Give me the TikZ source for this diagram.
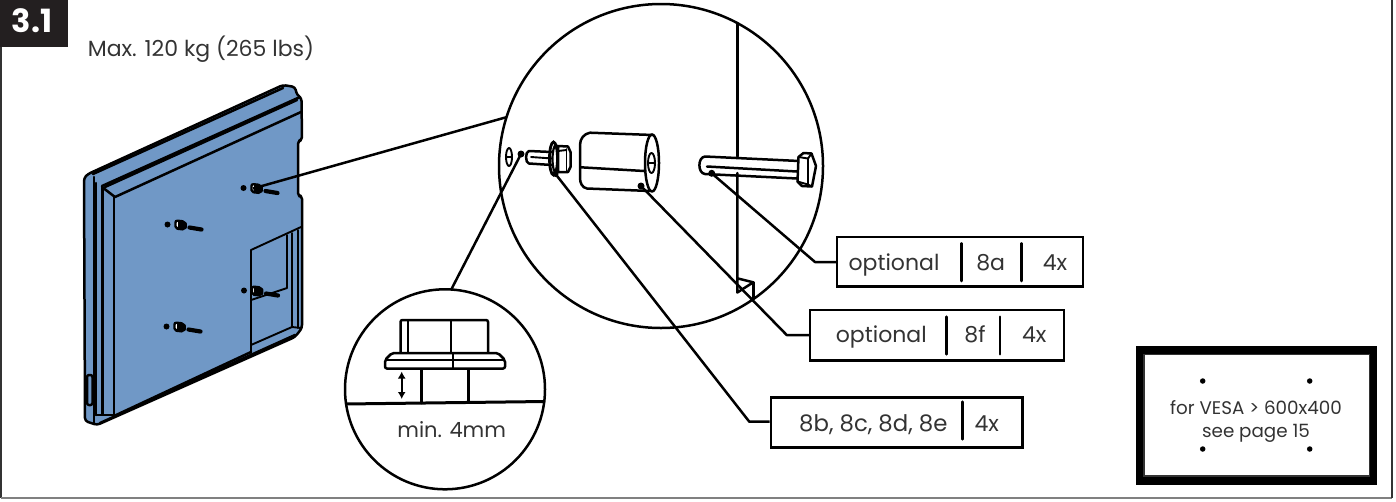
\documentclass[tikz,border=0pt]{standalone}
\usepackage{fontspec}
\usetikzlibrary{arrows.meta}
\setmainfont{Poppins}
\definecolor{panelblue}{HTML}{7098C6}
\definecolor{ink}{HTML}{333333}
\definecolor{tagblack}{HTML}{231F20}
\tikzset{
  ln/.style={line width=2.5pt,line join=round,line cap=round},
  thinln/.style={line width=1.9pt,line join=round,line cap=round},
  lead/.style={line width=2.5pt,line join=round},
  lbl/.style={text=ink,inner sep=0pt,anchor=base,font=\fontsize{22}{24}\selectfont},
  tagbox/.style={draw=black,line width=2.5pt,fill=white,inner sep=0pt},
  divider/.style={line width=2.5pt,line cap=round},
  blob/.style={circle,fill=black,inner sep=0pt,minimum size=7pt},
  vesadot/.style={circle,fill=black,inner sep=0pt,minimum size=5.5pt},
}
\newcommand{\mountbolt}[2]{%
  \begin{scope}[shift={(#1,#2)}]
    \fill (0,0) circle (3);
    \draw[line width=2.4pt,fill=white,rounded corners=2pt] (8,-4) -- (17,-3) -- (19,1) -- (17,5) -- (8,4) -- cycle;
    \fill (10,-3) rectangle (17,4);
    \draw[line width=4.2pt,line cap=round] (22,3) -- (34,5);
  \end{scope}}
\begin{document}
\begin{tikzpicture}[x=1pt,y=-1pt]
\useasboundingbox (0,0) rectangle (1396,501);
% panel frame
\draw[line width=1.8pt,draw=ink] (1,47) -- (1,498);
\draw[line width=1.5pt,draw=gray] (1,498) -- (1392,498);
\draw[line width=1.8pt,draw=ink] (1392,498) -- (1392,0);
\fill[tagblack] (0,0) rectangle (68,47);
\node[text=white,inner sep=0pt,anchor=base,font=\fontsize{32}{34}\selectfont\bfseries] (tag) at (32,32) {3.1};
\node[lbl] (maxload) at (201,56) {Max. 120 kg (265 lbs)};
% monitor
\draw[ln,fill=panelblue,rounded corners=3pt]
  (88,174) -- (283,85) -- (295,87) -- (297,95) -- (301.5,98) -- (302,140) -- (298,141) -- (298,196) -- (302,196)
  -- (302,328) -- (295,337) -- (97,425) -- (85,421) -- (84,178) -- cycle;
\draw[ln] (93,174) -- (283,88);
\draw[ln] (102,186) -- (300,97);
\draw[ln] (105,187) -- (297,100);
\draw[ln] (102,187) -- (115,197) -- (301,112);
\draw[ln] (114,197) -- (114,416);
\draw[ln] (102.5,188) -- (102.5,414);
\draw[ln] (96,183) -- (96,415);
\draw[ln] (94,177) -- (94,423);
\draw[ln] (96,415) -- (114,415);
\draw[ln] (114,416) -- (251,352);
\draw[ln] (100,423) -- (295,335);
\draw[ln,rounded corners=2pt] (87,375) rectangle (92.5,405);
\draw[thinln] (251,250) -- (301,227);
\draw[thinln] (251,250) -- (251,353);
\draw[thinln] (287,235) -- (287,288) -- (251,300);
\draw[thinln] (292,233) -- (292,327) -- (251,345);
\draw[thinln] (298,230) -- (298,328);
\draw[thinln] (292,327) -- (301,328);
\mountbolt{243.5}{188}
\mountbolt{167.5}{224.5}
\mountbolt{166.5}{326.5}
\mountbolt{244}{290.5}
% detail circles
\node[circle,draw=black,line width=2.5pt,minimum size=324pt,inner sep=0pt] (bigc) at (661,166) {};
\node[circle,draw=black,line width=2.5pt,minimum size=200pt,inner sep=0pt] (smallc) at (445,389.3) {};
\coordinate (monhole) at (253,188.5);
\coordinate (bigcedge) at (506,117.3);
\draw[lead] (monhole) -- (bigcedge);
% wall
\draw[ln] (737.3,23) -- (737.3,156.5);
\draw[ln] (737.3,173) -- (737.3,292.5) -- (753.3,282.3) -- (737.3,278.3);
\draw[ln] (753.3,282.3) -- (753.3,299);
% wall hole
\draw[thinln] (509,157) ellipse (3 and 9);
\draw[line width=1.2pt] (506.5,157) -- (511.5,157);
\node[blob] (dotwall) at (521,154) {};
% small screw
\draw[ln] (552,152) -- (529,151) to[out=180,in=180,looseness=0.8] (529,163.5) -- (552,165);
\draw[thinln] (531,157) -- (552,158.5);
\draw[line width=2.8pt] (553.5,158.5) ellipse (4 and 16.5);
\draw[line width=2.2pt] (556,159) ellipse (3.5 and 14);
\draw[ln,fill=white] (558,146) -- (568,146.5) -- (570.5,152) -- (570.5,167) -- (568,172) -- (558,172) -- cycle;
\draw[thinln] (566.5,149) -- (566.5,171);
\draw[thinln] (558,151) -- (566.5,150);
\node[blob,minimum size=6pt] (dotwash) at (555.5,174) {};
% spacer
\draw[ln] (653,135) -- (590,132.7) to[out=190,in=90] (580,145) -- (580,178) to[out=-90,in=170] (587,188.5) -- (650,191);
\draw[ln] (580.7,167.3) -- (644,171);
\draw[ln] (652,163) ellipse (7 and 28.5);
\draw[thinln] (651.5,163) ellipse (3.5 and 10);
\draw[line width=1.2pt] (648.5,163) -- (654.5,163);
\node[blob] (dotspacer) at (641,186) {};
% long bolt
\draw[ln] (799,161) -- (705,156.5) to[out=185,in=175,looseness=1.1] (705,174) -- (797,178.5);
\draw[ln] (707,166.5) -- (797,171.5);
\draw[ln,fill=white] (798.5,157) -- (803.5,153) -- (811.5,153.5) -- (816,166) -- (812,186.5) -- (802,186) -- (797.5,181.5) -- cycle;
\draw[thinln] (798.5,157) -- (808,158.5) -- (811.5,153.5);
\draw[thinln] (808,158.5) -- (808,184.5) -- (812,186.5);
\draw[thinln] (797.5,181.5) -- (808,184.5);
\node[blob] (dotbolt) at (711.7,173.3) {};
% inset bolt
\draw[line width=3pt] (345,404) -- (545,401.5);
\draw[ln] (421.7,368) -- (421.7,403);
\draw[ln] (468.3,368) -- (468.3,402);
\draw[line width=2.5pt,rounded corners=2pt] (400.5,353) -- (400.5,320) -- (488,320) -- (488,353);
\draw[line width=2.5pt] (408,320) -- (408,353);
\draw[line width=2.5pt] (451,320) -- (451,353);
\draw[line width=2.5pt,fill=white,rounded corners=2pt] (392,353) -- (498,353) -- (505,360) -- (505,368.5) -- (385,368.5) -- (385,360) -- cycle;
\draw[line width=2.5pt] (385,360) -- (505,360);
\draw[line width=2.5pt] (453,353) -- (453,368.5);
\draw[line width=2.4pt,{Latex[length=7pt,width=8pt]}-{Latex[length=7pt,width=8pt]}] (401.7,371.5) -- (401.7,399);
\node[lbl,font=\fontsize{21}{24}\selectfont] (minlabel) at (451.7,437.3) {min. 4mm};
% tag boxes
\node[tagbox,minimum width=246pt,minimum height=49.5pt] (boxa) at (960,261.5) {};
\node[tagbox,minimum width=254pt,minimum height=50.5pt] (boxf) at (937,335.3) {};
\node[tagbox,minimum width=251.5pt,minimum height=50pt] (boxb) at (896.5,422.3) {};
\draw[divider] (961.3,243.3) -- (961.3,281);
\draw[divider] (1021.7,243.3) -- (1021.7,281);
\draw[divider] (946.7,316.7) -- (946.7,354.3);
\draw[divider] (1000,316.7) -- (1000,354.3);
\draw[divider] (962.3,401.7) -- (962.3,439.3);
\node[lbl] (ta1) at (894,270) {optional};
\node[lbl] (ta2) at (990.7,270) {8a};
\node[lbl] (ta3) at (1055,270) {4x};
\node[lbl] (tf1) at (881.3,342.7) {optional};
\node[lbl] (tf2) at (975,342.7) {8f};
\node[lbl] (tf3) at (1034.3,342.7) {4x};
\node[lbl,font=\fontsize{22.8}{24}\selectfont] (tb1) at (873.3,431) {8b, 8c, 8d, 8e};
\node[lbl] (tb3) at (986.7,431) {4x};
% leaders
\coordinate (elba) at (815,262);
\coordinate (elbf) at (786.7,335);
\coordinate (elbb) at (749.3,421.7);
\draw[lead] (dotbolt.center) -- (elba) -- (boxa.west |- elba);
\draw[lead] (dotspacer.center) -- (elbf) -- (boxf.west |- elbf);
\draw[lead] (dotwash.center) -- (elbb) -- (boxb.west |- elbb);
\coordinate (smalltop) at (451,290);
\draw[lead] (dotwall.center) -- (smalltop);
% VESA
\node[draw=black,line width=8pt,fill=white,minimum width=233pt,minimum height=131pt,inner sep=0pt] (vesa) at (1256.5,415) {};
\draw[line width=1.2pt,draw=ink] (1144,354.5) rectangle (1369.5,476);
\node[vesadot] (v1) at (1202.7,381) {};
\node[vesadot] (v2) at (1309.7,381) {};
\node[vesadot] (v3) at (1202.7,449) {};
\node[vesadot] (v4) at (1309.7,449) {};
\node[text=ink,inner sep=0pt,anchor=base,font=\fontsize{18.3}{22}\selectfont] (vesa1) at (1256,414) {for VESA > 600x400};
\node[text=ink,inner sep=0pt,anchor=base,font=\fontsize{18.3}{22}\selectfont] (vesa2) at (1256,437.3) {see page 15};
\end{tikzpicture}
\end{document}
